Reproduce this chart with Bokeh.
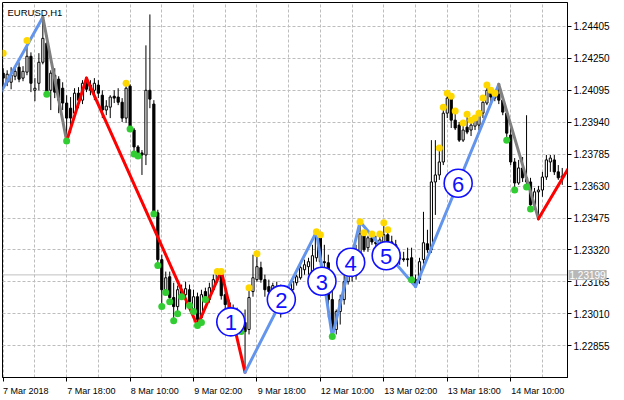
from bokeh.plotting import figure
from bokeh.models import ColumnDataSource, FixedTicker, PrintfTickFormatter, Label, Span, Range1d
from bokeh.core.properties import value
from bokeh.embed import file_html
from bokeh.resources import INLINE

symbol = "EURUSD,H1"

opens = [
1.24178, 1.24134, 1.24134, 1.24163, 1.24207, 1.24154, 1.24183, 1.24260, 1.24095, 1.24129,
1.24231, 1.24323, 1.24095, 1.24168, 1.24149, 1.24105, 1.24033, 1.24008, 1.23984, 1.24081,
1.24047, 1.24129, 1.24095, 1.24095, 1.24120, 1.24071, 1.23999, 1.24013, 1.24066, 1.24062,
1.24037, 1.23960, 1.24115, 1.23902, 1.23820, 1.23791, 1.23781, 1.24095, 1.24028, 1.23500,
1.23273, 1.23127, 1.23190, 1.23089, 1.23045, 1.23127, 1.23103, 1.23127, 1.23031, 1.23093,
1.22992, 1.23118, 1.23079, 1.23127, 1.23176, 1.23210, 1.23103, 1.23064, 1.23021, 1.23002,
1.22944, 1.22968, 1.22934, 1.23118, 1.23176, 1.23234, 1.23176, 1.23142, 1.23118, 1.23137,
1.23108, 1.23098, 1.23113, 1.23127, 1.23161, 1.23185, 1.23224, 1.23239, 1.23210, 1.23282,
1.23389, 1.23263, 1.23258, 1.23079, 1.22934, 1.23021, 1.23079, 1.23166, 1.23190, 1.23195,
1.23287, 1.23398, 1.23331, 1.23379, 1.23359, 1.23350, 1.23359, 1.23394, 1.23359, 1.23345,
1.23282, 1.23277, 1.23277, 1.23282, 1.23176, 1.23176, 1.23273, 1.23350, 1.23321, 1.23650,
1.23684, 1.23747, 1.23984, 1.24057, 1.23950, 1.23926, 1.23853, 1.23916, 1.23902, 1.23921,
1.23926, 1.23984, 1.24033, 1.24086, 1.24057, 1.24076, 1.24047, 1.23984, 1.23878, 1.23747,
1.23645, 1.23718, 1.23670, 1.23650, 1.23539, 1.23602, 1.23611, 1.23674, 1.23747, 1.23757,
1.23699, 1.23670]

highs = [
1.24202, 1.24192, 1.24207, 1.24202, 1.24231, 1.24212, 1.24337, 1.24279, 1.24154, 1.24275,
1.24449, 1.24362, 1.24192, 1.24202, 1.24163, 1.24134, 1.24071, 1.24062, 1.24105, 1.24110,
1.24144, 1.24154, 1.24144, 1.24154, 1.24144, 1.24095, 1.24047, 1.24071, 1.24095, 1.24105,
1.24057, 1.24115, 1.24124, 1.23912, 1.23829, 1.23805, 1.24313, 1.24463, 1.24047, 1.23515,
1.23297, 1.23215, 1.23215, 1.23161, 1.23147, 1.23152, 1.23166, 1.23152, 1.23127, 1.23113,
1.23127, 1.23137, 1.23161, 1.23200, 1.23215, 1.23219, 1.23127, 1.23079, 1.23055, 1.23040,
1.22992, 1.23031, 1.23137, 1.23297, 1.23302, 1.23263, 1.23200, 1.23176, 1.23161, 1.23166,
1.23152, 1.23137, 1.23142, 1.23185, 1.23200, 1.23248, 1.23273, 1.23282, 1.23345, 1.23408,
1.23394, 1.23345, 1.23297, 1.23127, 1.23031, 1.23103, 1.23200, 1.23224, 1.23263, 1.23345,
1.23457, 1.23403, 1.23389, 1.23398, 1.23389, 1.23398, 1.23452, 1.23418, 1.23389, 1.23369,
1.23311, 1.23311, 1.23331, 1.23331, 1.23200, 1.23282, 1.23505, 1.23418, 1.23853, 1.23853,
1.23815, 1.24013, 1.24081, 1.24066, 1.23994, 1.23941, 1.23936, 1.23979, 1.23950, 1.23960,
1.23984, 1.24057, 1.24120, 1.24095, 1.24081, 1.24124, 1.24062, 1.23999, 1.23926, 1.23766,
1.23757, 1.23771, 1.23974, 1.23670, 1.23621, 1.23631, 1.23699, 1.23781, 1.23781, 1.23781,
1.23732, 1.23718]

lows = [
1.24105, 1.24115, 1.24100, 1.24144, 1.24134, 1.24139, 1.24168, 1.24086, 1.24042, 1.24095,
1.24221, 1.24071, 1.23999, 1.24057, 1.23984, 1.23999, 1.23849, 1.23887, 1.23960, 1.24008,
1.24028, 1.24086, 1.24071, 1.24047, 1.24057, 1.23960, 1.23974, 1.23960, 1.24033, 1.24023,
1.23941, 1.23936, 1.23902, 1.23781, 1.23766, 1.23684, 1.23732, 1.24008, 1.23490, 1.23244,
1.23040, 1.23113, 1.23064, 1.22977, 1.23011, 1.23093, 1.23031, 1.23050, 1.23021, 1.22953,
1.22968, 1.23079, 1.23064, 1.23118, 1.23161, 1.23079, 1.23031, 1.22992, 1.22972, 1.22919,
1.22919, 1.22726, 1.22910, 1.23093, 1.23166, 1.23161, 1.23093, 1.23093, 1.23103, 1.23079,
1.22992, 1.23069, 1.23079, 1.23118, 1.23147, 1.23176, 1.23200, 1.23200, 1.23200, 1.23263,
1.23244, 1.23224, 1.22992, 1.22900, 1.22910, 1.22958, 1.23055, 1.23152, 1.23166, 1.23176,
1.23273, 1.23311, 1.23311, 1.23345, 1.23321, 1.23321, 1.23340, 1.23345, 1.23321, 1.23263,
1.23248, 1.23263, 1.23239, 1.23166, 1.23142, 1.23156, 1.23253, 1.23306, 1.23306, 1.23490,
1.23660, 1.23732, 1.23960, 1.23912, 1.23902, 1.23844, 1.23844, 1.23882, 1.23873, 1.23902,
1.23902, 1.23960, 1.24023, 1.24037, 1.24042, 1.24028, 1.23974, 1.23853, 1.23732, 1.23611,
1.23636, 1.23650, 1.23626, 1.23519, 1.23515, 1.23471, 1.23578, 1.23660, 1.23699, 1.23684,
1.23660, 1.23636]

closes = [
1.24154, 1.24173, 1.24168, 1.24187, 1.24149, 1.24187, 1.24260, 1.24129, 1.24105, 1.24231,
1.24347, 1.24081, 1.24178, 1.24086, 1.24047, 1.24033, 1.23960, 1.23960, 1.24081, 1.24047,
1.24129, 1.24100, 1.24120, 1.24129, 1.24081, 1.23999, 1.24018, 1.24062, 1.24057, 1.24037,
1.23960, 1.24105, 1.23912, 1.23820, 1.23776, 1.23781, 1.24095, 1.24052, 1.23500, 1.23273,
1.23127, 1.23185, 1.23089, 1.23045, 1.23127, 1.23108, 1.23132, 1.23069, 1.23093, 1.22982,
1.23103, 1.23089, 1.23137, 1.23176, 1.23210, 1.23098, 1.23055, 1.23021, 1.23002, 1.22944,
1.22968, 1.22924, 1.23089, 1.23185, 1.23239, 1.23176, 1.23127, 1.23118, 1.23147, 1.23108,
1.23098, 1.23118, 1.23127, 1.23166, 1.23190, 1.23234, 1.23248, 1.23263, 1.23292, 1.23389,
1.23263, 1.23258, 1.23079, 1.22934, 1.23021, 1.23079, 1.23166, 1.23195, 1.23200, 1.23287,
1.23398, 1.23321, 1.23379, 1.23359, 1.23350, 1.23369, 1.23394, 1.23359, 1.23345, 1.23282,
1.23277, 1.23273, 1.23273, 1.23185, 1.23156, 1.23263, 1.23355, 1.23321, 1.23650, 1.23684,
1.23747, 1.23984, 1.24057, 1.23950, 1.23912, 1.23853, 1.23902, 1.23892, 1.23926, 1.23950,
1.23974, 1.24037, 1.24095, 1.24062, 1.24076, 1.24047, 1.23989, 1.23887, 1.23747, 1.23645,
1.23718, 1.23670, 1.23650, 1.23539, 1.23602, 1.23611, 1.23674, 1.23757, 1.23766, 1.23699,
1.23670, 1.23679]

time_labels = ["7 Mar 2018", "7 Mar 18:00", "8 Mar 10:00", "9 Mar 02:00", "9 Mar 18:00",
               "12 Mar 10:00", "13 Mar 02:00", "13 Mar 18:00", "14 Mar 10:00"]
time_label_bars = [0, 16, 32, 48, 64, 80, 96, 112, 128]
grid_bars = [0, 8, 16, 24, 32, 40, 48, 56, 64, 72, 80, 88, 96, 104, 112, 120, 128, 136]
price_ticks = [1.22855, 1.23010, 1.23165, 1.23320, 1.23475, 1.23630, 1.23785, 1.23940,
               1.24095, 1.24250, 1.24405]
current_price = 1.23199

zz_bars = [-1, 10, 16, 21, 49, 55, 61, 79, 83, 90, 104, 125, 135, 143]
zz_prices = [1.24071, 1.24449, 1.23849, 1.24154, 1.22953, 1.23219, 1.22726, 1.23408,
             1.22900, 1.23457, 1.23142, 1.24124, 1.23471, 1.23731]
zz_colors = ["#6495ED", "#808080", "#FF0000", "#FF0000", "#FF0000", "#FF0000", "#6495ED",
             "#6495ED", "#6495ED", "#6495ED", "#6495ED", "#808080", "#FF0000"]

up_dot_bars = [0, 6, 31, 54, 55, 62, 64, 79, 80, 90, 91, 93, 95, 96, 97, 110, 111, 112,
               113, 114, 116, 117, 118, 119, 120, 121, 122, 123, 124]
up_dot_prices = [1.24275, 1.24337, 1.24129, 1.23215, 1.23215, 1.23137, 1.23302, 1.23408,
                 1.23394, 1.23457, 1.23403, 1.23398, 1.23398, 1.23452, 1.23418, 1.23815,
                 1.24013, 1.24081, 1.24066, 1.23994, 1.23936, 1.23979, 1.23950, 1.23960,
                 1.23984, 1.24057, 1.24120, 1.24095, 1.24081]
down_dot_bars = [11, 16, 32, 33, 34, 38, 39, 40, 41, 42, 43, 44, 45, 47, 48, 49, 50, 51,
                 60, 83, 103, 127, 129, 132, 133]
down_dot_prices = [1.24076, 1.23849, 1.23907, 1.23786, 1.23776, 1.23495, 1.23244, 1.23045,
                   1.23113, 1.23069, 1.22977, 1.23011, 1.23093, 1.23050, 1.23021, 1.22953,
                   1.22968, 1.23079, 1.22924, 1.22900, 1.23176, 1.23853, 1.23611, 1.23626,
                   1.23519]

wave_labels = ["1", "2", "3", "4", "5", "6"]
wave_bars = [57.4, 70.15, 80.4, 87.65, 96.6, 114.75]
wave_prices = [1.22971, 1.23079, 1.23168, 1.23260, 1.23292, 1.23644]

FONT = "Liberation Sans"
FW, FH = 565, 375
X0, X1 = -0.175, 142.325
PX_PER_BAR = FW / (X1 - X0)

p = figure(frame_width=FW, frame_height=FH,
           x_range=Range1d(X0, X1), y_range=Range1d(1.22701, 1.24521),
           output_backend="svg", toolbar_location=None, y_axis_location="right",
           min_border_left=2, min_border_top=2, min_border_right=52, min_border_bottom=22)
p.background_fill_color = "white"
p.border_fill_color = "white"
p.outline_line_color = "black"
p.outline_line_alpha = 1.0

# x axis: MT-style labels start at their tick, so each label is centred half
# its width to the right of the bar; the real tick marks are the minor ticks.
label_pos = [round(b + 0.5 * 4.5 * len(t) / PX_PER_BAR, 3)
             for b, t in zip(time_label_bars, time_labels)]
xa = p.xaxis[0]
xa.ticker = FixedTicker(ticks=label_pos, minor_ticks=time_label_bars)
xa.major_label_overrides = {lp: t for lp, t in zip(label_pos, time_labels)}
xa.major_tick_out = 0
xa.major_tick_in = 0
xa.major_tick_line_color = None
xa.minor_tick_out = 4
xa.minor_tick_in = 0
xa.minor_tick_line_color = "black"
xa.major_label_standoff = 4
xa.major_label_text_font = FONT
xa.major_label_text_font_size = "9px"
xa.major_label_text_color = "black"
xa.axis_line_color = "black"

ya = p.yaxis[0]
ya.ticker = FixedTicker(ticks=price_ticks)
ya.formatter = PrintfTickFormatter(format="%.5f")
ya.major_tick_out = 4
ya.major_tick_in = 0
ya.minor_tick_out = 0
ya.minor_tick_in = 0
ya.major_label_standoff = 2
ya.major_label_text_font = FONT
ya.major_label_text_font_size = "10px"
ya.major_label_text_color = "black"
ya.axis_line_color = "black"

p.xgrid[0].ticker = FixedTicker(ticks=grid_bars)
for g in (p.xgrid[0], p.ygrid[0]):
    g.grid_line_color = "#BDBDBD"
    g.grid_line_dash = "3 2"
    g.grid_line_width = 1

p.add_layout(Span(location=current_price, dimension="width", line_color="#C0C0C0",
                  line_width=1, level="underlay"))

bars = list(range(len(opens)))
src = ColumnDataSource(dict(
    x=bars,
    top=[max(o, c) for o, c in zip(opens, closes)],
    bottom=[min(o, c) for o, c in zip(opens, closes)],
    high=highs, low=lows,
    fill=["white" if c >= o else "black" for o, c in zip(opens, closes)],
))
p.segment(x0="x", y0="low", x1="x", y1="high", source=src, line_color="black", line_width=1)
p.vbar(x="x", width=0.55, top="top", bottom="bottom", fill_color="fill",
       line_color="black", line_width=1, source=src)

p.segment(x0=zz_bars[:-1], y0=zz_prices[:-1], x1=zz_bars[1:], y1=zz_prices[1:],
          line_color=zz_colors, line_width=3, line_cap="round")

p.scatter(up_dot_bars, up_dot_prices, size=7, fill_color="#FFD700", line_color=None)
p.scatter(down_dot_bars, down_dot_prices, size=7, fill_color="#32CD32", line_color=None)

p.scatter(wave_bars, wave_prices, size=28, fill_color="white", line_color="#1010FF",
          line_width=1.6)
p.text(wave_bars, wave_prices, text=wave_labels, text_align="center",
       text_baseline="middle", text_color="#1010FF", text_font_size="22px",
       text_font=value(FONT), y_offset=1)

p.add_layout(Label(x=5, y=FH - 4, x_units="screen", y_units="screen", text=symbol,
                   text_font=FONT, text_font_size="9.5px", text_color="black",
                   text_baseline="top", text_align="left"))

p.add_layout(Label(x=X1, y=current_price, x_units="data", y_units="data", x_offset=1,
                   text="%.5f" % current_price, text_font=FONT, text_font_size="10px",
                   text_color="white", text_baseline="middle", text_align="left",
                   background_fill_color="#B8B8B8", padding=1), "right")

open("out.html", "w").write(file_html(p, INLINE))
